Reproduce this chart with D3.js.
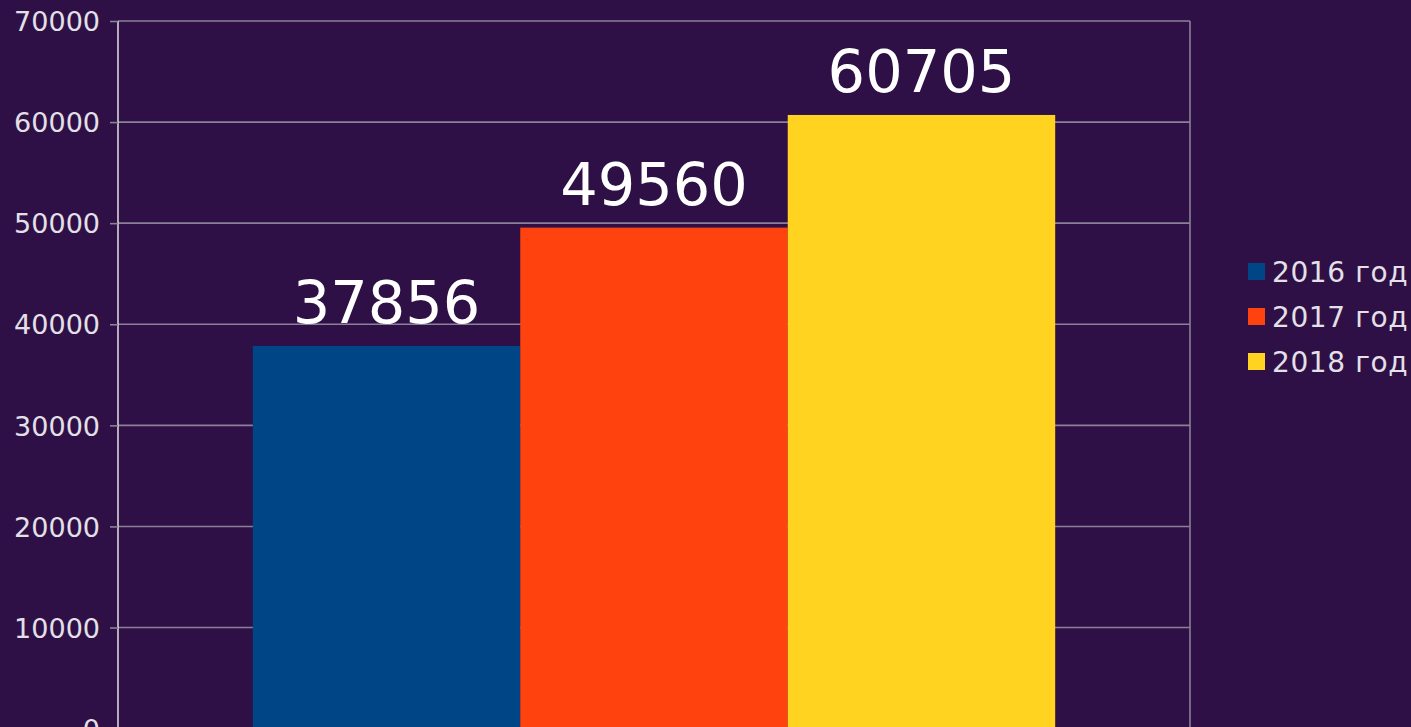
<!DOCTYPE html>
<html>
<head>
<meta charset="utf-8">
<script src="https://cdn.jsdelivr.net/npm/d3@7"></script>
<style>
  html, body { margin: 0; padding: 0; background: #2e1046; overflow: hidden; }
  svg { display: block; }
</style>
</head>
<body>
<svg id="chart" width="1411" height="727"></svg>
<script>
const categories = [""];
const seriesNames = ["2016 год", "2017 год", "2018 год"];
const seriesValues = [37856, 49560, 60705];
const seriesColors = ["#004586", "#ff420e", "#ffd320"];
const yTicks = [0, 10000, 20000, 30000, 40000, 50000, 60000, 70000];

const W = 1411, H = 727;
const plot = { left: 118, right: 1190, top: 21, bottom: 728.6 };

const svg = d3.select("#chart");
svg.append("rect").attr("width", W).attr("height", H).attr("fill", "#2e1046");

const y = d3.scaleLinear().domain([0, 70000]).range([plot.bottom, plot.top]);
const x0 = d3.scaleBand().domain(categories).range([plot.left, plot.right])
  .paddingInner(0).paddingOuter(0.168);
const x1 = d3.scaleBand().domain(seriesNames).range([0, x0.bandwidth()]).padding(0);

// gridlines
svg.append("g").selectAll("line").data(yTicks.filter(d => d > 0)).join("line")
  .attr("x1", plot.left).attr("x2", plot.right)
  .attr("y1", d => y(d)).attr("y2", d => y(d))
  .attr("stroke", "#8a8097").attr("stroke-width", 1.6);

// right border
svg.append("line")
  .attr("x1", plot.right).attr("x2", plot.right)
  .attr("y1", plot.top).attr("y2", plot.bottom)
  .attr("stroke", "#8a8097").attr("stroke-width", 1.6);

// bars
const g = svg.append("g").attr("transform", `translate(${x0(categories[0])},0)`);
const data = seriesNames.map((n, i) => ({ name: n, value: seriesValues[i], color: seriesColors[i] }));
g.selectAll("rect").data(data).join("rect")
  .attr("x", d => x1(d.name))
  .attr("width", x1.bandwidth())
  .attr("y", d => y(d.value))
  .attr("height", d => y(0) - y(d.value))
  .attr("fill", d => d.color);

// value labels
g.selectAll("text.val").data(data).join("text")
  .attr("class", "val")
  .attr("x", d => x1(d.name) + x1.bandwidth() / 2)
  .attr("y", d => y(d.value) - 23)
  .attr("text-anchor", "middle")
  .attr("font-family", "DejaVu Sans")
  .attr("font-size", 59)
  .attr("fill", "#ffffff")
  .text(d => d.value);

// y axis
const yAxis = d3.axisLeft(y).tickValues(yTicks).tickSize(8).tickPadding(10)
  .tickFormat(d => String(d));
const ya = svg.append("g").attr("transform", `translate(${plot.left},0)`).call(yAxis);
ya.select(".domain").attr("stroke", "#d8d4dc").attr("stroke-width", 1.6)
  .attr("d", `M0,${plot.top}V${plot.bottom}`);
ya.selectAll(".tick line").attr("stroke", "#8a8097").attr("stroke-width", 1.6);
ya.selectAll(".tick text")
  .attr("font-family", "DejaVu Sans")
  .attr("font-size", 27)
  .attr("fill", "#e4e0e8")
  .attr("dy", "0.36em");

// legend
const leg = svg.append("g");
const legY = [272, 317, 362];
data.forEach((d, i) => {
  leg.append("rect")
    .attr("x", 1248).attr("y", legY[i] - 9)
    .attr("width", 17).attr("height", 17)
    .attr("fill", d.color);
  leg.append("text")
    .attr("x", 1272).attr("y", legY[i])
    .attr("dy", "0.36em")
    .attr("font-family", "DejaVu Sans")
    .attr("font-size", 28)
    .attr("letter-spacing", 0.6)
    .attr("fill", "#e4e0e8")
    .text(d.name);
});
</script>
</body>
</html>
